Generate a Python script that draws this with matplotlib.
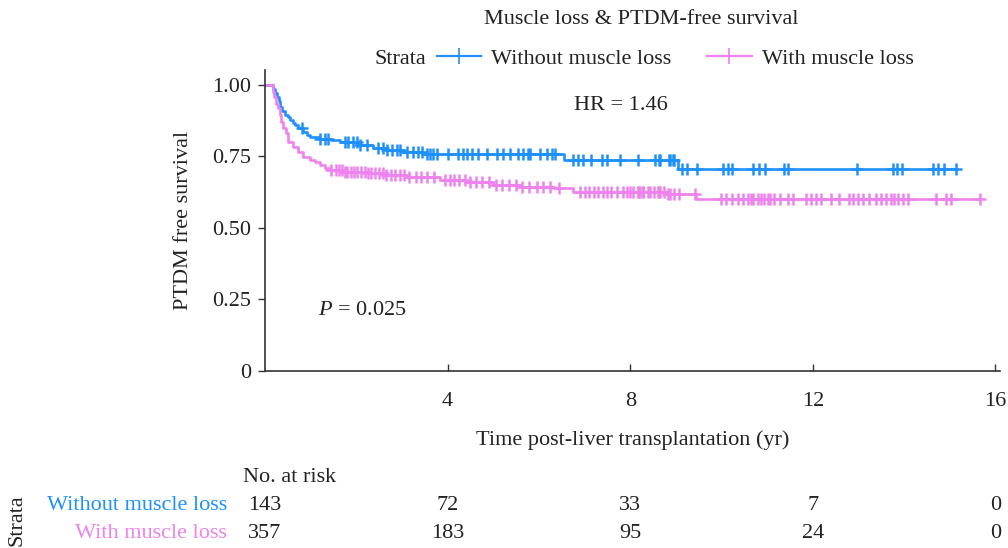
import numpy as np
import matplotlib
matplotlib.use("Agg")
import matplotlib.pyplot as plt
import matplotlib.transforms as mtransforms
from matplotlib.lines import Line2D

plt.rcParams['font.family'] = ['Liberation Serif', 'DejaVu Serif']
plt.rcParams['mathtext.fontset'] = 'custom'
plt.rcParams['mathtext.rm'] = 'Liberation Serif'
plt.rcParams['mathtext.it'] = 'Liberation Serif:italic'

# ------------------ DATA ------------------
groups = ['Without muscle loss', 'With muscle loss']
colors = ['#1E90FF', '#EE82EE']

# Kaplan-Meier steps: time of step (yr) and survival after the step
blue_t = [0, 0.17, 0.22, 0.26, 0.30, 0.33, 0.38, 0.44, 0.50, 0.55, 0.61, 0.66, 0.72,
          0.83, 0.92, 0.99, 1.2, 1.45, 1.64, 2.08, 2.37, 2.68, 3.0, 3.46, 6.54, 9.05]
blue_s = [1.0, 0.986, 0.972, 0.958, 0.944, 0.923, 0.909, 0.895, 0.888, 0.878, 0.867, 0.86, 0.85,
          0.836, 0.826, 0.818, 0.812, 0.806, 0.80, 0.79, 0.78, 0.773, 0.766, 0.757, 0.739, 0.705]
blue_end = 15.13

pink_t = [0, 0.17, 0.2, 0.24, 0.28, 0.32, 0.35, 0.39, 0.45, 0.5, 0.61, 0.72, 0.83, 0.99, 1.1,
          1.2, 1.32, 1.43, 1.71, 2.24, 2.6, 3.1, 3.84, 4.4, 5.0, 5.6, 6.3, 6.75, 8.8, 9.45]
pink_s = [1.0, 0.975, 0.958, 0.935, 0.92, 0.895, 0.87, 0.85, 0.832, 0.80, 0.783, 0.766, 0.748,
          0.738, 0.73, 0.72, 0.71, 0.703, 0.696, 0.692, 0.685, 0.678, 0.668, 0.66, 0.652, 0.645,
          0.64, 0.627, 0.618, 0.603]
pink_end = 15.66

# censoring times (yr)
blue_cens = [0.81, 1.2, 1.32, 1.38, 1.75, 1.82, 1.93, 2.02, 2.08, 2.24, 2.48, 2.59, 2.68, 2.78,
             2.89, 2.96, 3.11, 3.25, 3.36, 3.44, 3.55, 3.62, 3.68, 3.77, 4.01, 4.23, 4.34, 4.43,
             4.54, 4.67, 4.87, 5.09, 5.22, 5.37, 5.55, 5.66, 5.75, 5.81, 6.03, 6.18, 6.29, 6.36,
             6.75, 6.86, 6.97, 7.13, 7.39, 7.5, 7.78, 8.16, 8.55, 8.62, 8.66, 8.84, 8.88, 8.93,
             8.95, 9.14, 9.25, 9.47, 10.04, 10.15, 10.24, 10.7, 10.81, 10.96, 11.36, 11.45,
             12.96, 13.75, 13.84, 13.95, 14.63, 14.74, 14.87, 15.13]
pink_cens = [1.45, 1.55, 1.62, 1.68, 1.75, 1.8, 1.88, 1.95, 2.02, 2.1, 2.18, 2.25, 2.32, 2.4,
             2.5, 2.58, 2.66, 2.75, 2.85, 2.95, 3.05, 3.15, 3.3, 3.42, 3.55, 3.7, 3.95, 4.05,
             4.15, 4.25, 4.38, 4.5, 4.62, 4.75, 4.9, 5.05, 5.2, 5.35, 5.5, 5.62, 5.78, 5.95,
             6.1, 6.25, 6.45, 6.9, 7.0, 7.1, 7.2, 7.3, 7.41, 7.5, 7.57, 7.72, 7.85, 7.94, 8.0,
             8.07, 8.16, 8.18, 8.22, 8.27, 8.29, 8.38, 8.44, 8.51, 8.6, 8.62, 8.66, 8.73, 8.82,
             8.88, 8.95, 9.06, 9.43, 9.98, 10.09, 10.24, 10.37, 10.48, 10.57, 10.64, 10.7,
             10.79, 10.86, 10.92, 11.01, 11.07, 11.14, 11.29, 11.45, 11.56, 11.84, 11.95,
             12.06, 12.17, 12.39, 12.57, 12.79, 12.89, 13.0, 13.11, 13.22, 13.38, 13.49, 13.6,
             13.71, 13.77, 13.86, 13.97, 14.08, 14.69, 14.91, 15.02, 15.66]

# number at risk table
risk_times = [0, 4, 8, 12, 16]
risk_blue = [143, 72, 33, 7, 0]
risk_pink = [357, 183, 95, 24, 0]

x_ticks = [4, 8, 12, 16]
y_ticks = [0, 0.25, 0.5, 0.75, 1.0]
y_ticklabels = ['0', '0.25', '0.50', '0.75', '1.00']

TXT = '#222222'
FS = 16

# ------------------ PLOT ------------------
W, H = 1008, 548
fig = plt.figure(figsize=(W / 100, H / 100), dpi=100)
ax = fig.add_axes([265 / W, 1 - 371 / H, (1000 - 265) / W, (371 - 70) / H])


def km_curve(t, s, end):
    tt = list(t) + [end]
    ss = list(s) + [s[-1]]
    return tt, ss


def surv_at(t, s, x):
    idx = np.searchsorted(np.array(t), np.array(x), side='right') - 1
    return np.array(s)[idx]


for t, s, end, cens, col in [(blue_t, blue_s, blue_end, blue_cens, colors[0]),
                              (pink_t, pink_s, pink_end, pink_cens, colors[1])]:
    tt, ss = km_curve(t, s, end)
    ax.step(tt, ss, where='post', color=col, lw=1.9)
    ax.plot(cens, surv_at(t, s, cens), ls='none', marker='+', ms=8, mew=1.8, color=col)

ax.set_xlim(0, 16.1)
ax.set_ylim(0, 1.0524)
ax.set_xticks(x_ticks)
ax.set_yticks(y_ticks)
ax.set_yticklabels(y_ticklabels)
ax.tick_params(axis='x', direction='in', length=5, width=1, colors='#333333',
               labelcolor=TXT, labelsize=FS, pad=15)
ax.tick_params(axis='y', direction='out', length=5, width=1, colors='#333333',
               labelcolor=TXT, labelsize=FS, pad=5)
for sp in ['top', 'right']:
    ax.spines[sp].set_visible(False)
for sp in ['left', 'bottom']:
    ax.spines[sp].set_color('#333333')
    ax.spines[sp].set_linewidth(1.2)

ax.set_xlabel('Time post-liver transplantation (yr)', fontsize=FS, color=TXT, labelpad=14)
ax.set_ylabel('PTDM free survival', fontsize=FS, color=TXT, labelpad=14)

ax.text(7.8, 0.93, 'HR = 1.46', fontsize=FS, color=TXT, ha='center', va='center')
ax.text(2.13, 0.21, r'$P$' + ' = 0.025', fontsize=FS, color=TXT,
        ha='center', va='center')

# title and legend
fig.text(641 / W, 1 - 20 / H, 'Muscle loss & PTDM-free survival', fontsize=FS,
         color=TXT, ha='center', va='center')
fig.text(374 / W, 1 - 59 / H, 'Strata', fontsize=FS, color=TXT, ha='left', va='center')
handles = [Line2D([], [], color=c, lw=1.6, marker='+', ms=12, mew=1.2) for c in colors]
leg = fig.legend(handles, groups, loc='center left', bbox_to_anchor=(437 / W, 1 - 59 / H),
                 ncol=2, frameon=False, fontsize=FS, handlelength=2.0, handletextpad=0.45,
                 columnspacing=1.6, borderpad=0, borderaxespad=0)
for txt in leg.get_texts():
    txt.set_color(TXT)

# number at risk table
trans = mtransforms.blended_transform_factory(ax.transData, fig.transFigure)
fig.text(243 / W, 1 - 478 / H, 'No. at risk', fontsize=FS, color=TXT, ha='left', va='center')
for row_y, vals, lab, col in [(506, risk_blue, groups[0], colors[0]),
                              (533, risk_pink, groups[1], colors[1])]:
    fig.text(227 / W, 1 - row_y / H, lab, fontsize=FS, color=col, ha='right', va='center')
    for xt, v in zip(risk_times, vals):
        fig.text(xt, 1 - row_y / H, str(v), fontsize=FS, color=TXT, ha='center',
                 va='center', transform=trans)
fig.text(17 / W, 1 - 520 / H, 'Strata', fontsize=FS, color=TXT, ha='center',
         va='center', rotation=90)

fig.savefig('out.png', dpi=100)
